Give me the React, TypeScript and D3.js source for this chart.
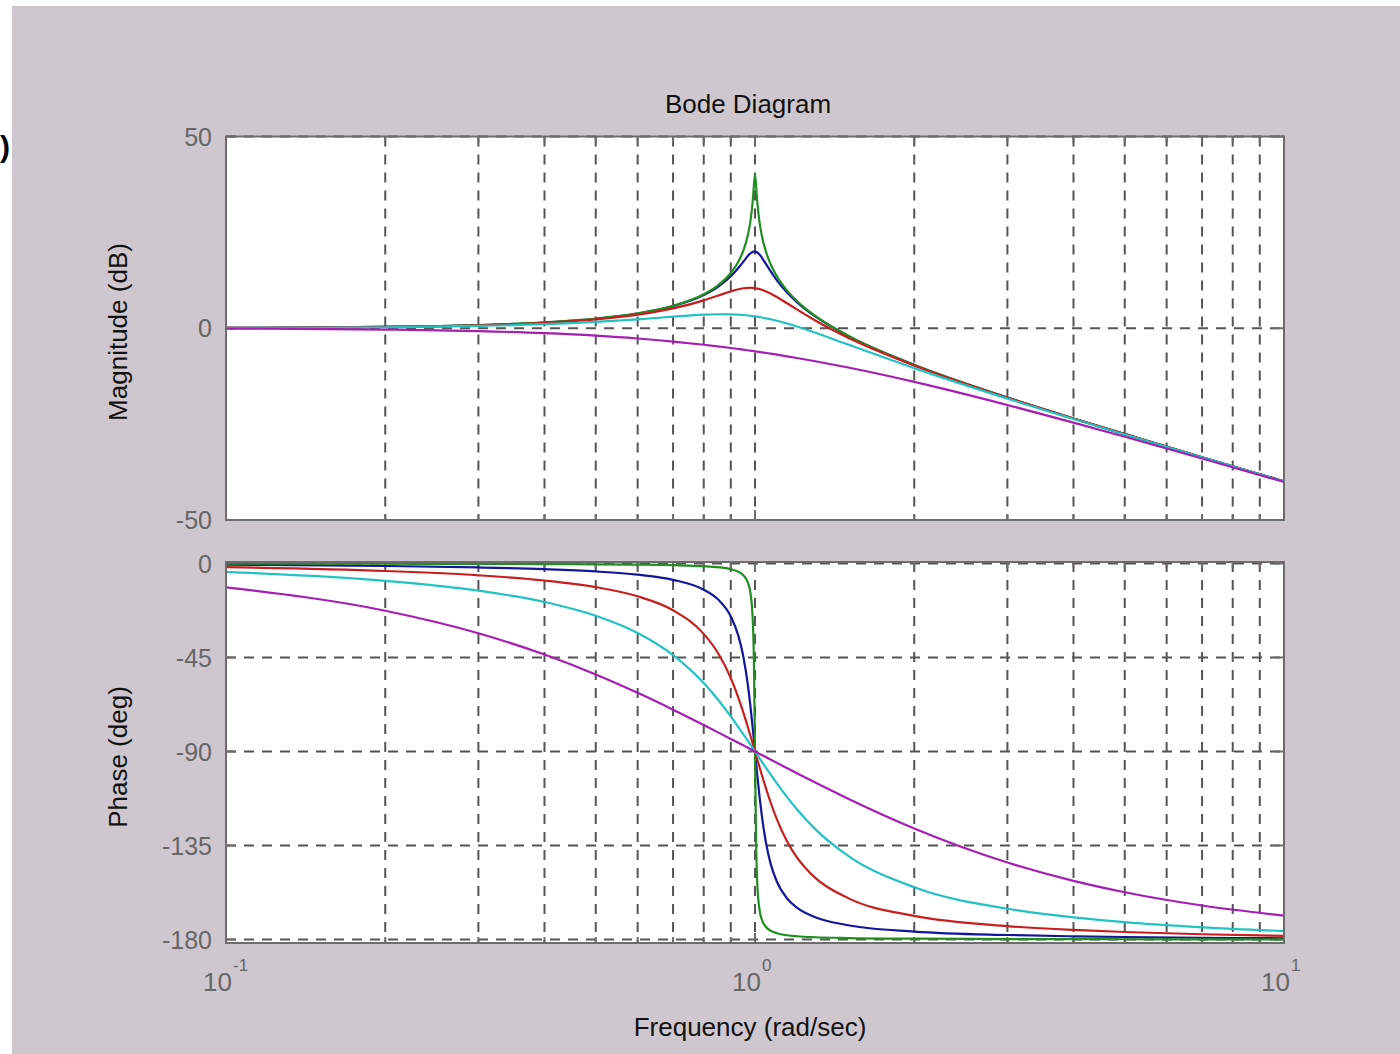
import React from "react";
import * as d3 from "d3";

const freqs = [0.1, 0.2, 0.3, 0.4, 0.5, 0.6, 0.7, 0.8, 0.85, 0.9, 0.93, 0.95, 0.97, 0.98, 0.99, 0.995, 1.0, 1.005, 1.01, 1.02, 1.03, 1.05, 1.07, 1.1, 1.15, 1.2, 1.3, 1.5, 2, 3, 4, 5, 7, 10];

// Magnitude (dB)
const magBlue = [0.087, 0.353, 0.814, 1.505, 2.48, 3.838, 5.768, 8.665, 10.745, 13.546, 15.702, 17.321, 18.894, 19.519, 19.915, 20.0, 20.0, 19.914, 19.745, 19.195, 18.441, 16.669, 14.888, 12.503, 9.31, 6.819, 3.072, -2.0, -9.562, -18.068, -23.525, -27.606, -33.626, -39.913];
const magGreen = [0.087, 0.355, 0.819, 1.515, 2.499, 3.876, 5.848, 8.872, 11.13, 14.415, 17.366, 20.179, 24.453, 27.788, 33.063, 37.022, 40.0, 36.957, 32.959, 27.604, 24.185, 19.74, 16.755, 13.544, 9.824, 7.128, 3.222, -1.939, -9.542, -18.062, -23.522, -27.604, -33.625, -39.913];
const magRed = [0.083, 0.338, 0.777, 1.427, 2.328, 3.546, 5.168, 7.277, 8.476, 9.626, 10.173, 10.422, 10.547, 10.555, 10.526, 10.497, 10.458, 10.41, 10.352, 10.211, 10.035, 9.597, 9.065, 8.153, 6.516, 4.905, 2.019, -2.467, -9.713, -18.117, -23.549, -27.621, -33.633, -39.917];
const magCyan = [0.066, 0.263, 0.594, 1.057, 1.643, 2.321, 3.008, 3.534, 3.655, 3.635, 3.545, 3.451, 3.33, 3.259, 3.182, 3.141, 3.098, 3.054, 3.008, 2.912, 2.811, 2.591, 2.351, 1.959, 1.238, 0.461, -1.153, -4.257, -10.398, -18.351, -23.671, -27.696, -33.67, -39.934];
const magMagenta = [-0.086, -0.341, -0.749, -1.289, -1.938, -2.671, -3.464, -4.297, -4.723, -5.154, -5.413, -5.587, -5.76, -5.847, -5.934, -5.978, -6.021, -6.064, -6.108, -6.195, -6.282, -6.455, -6.629, -6.888, -7.319, -7.747, -8.595, -10.238, -13.979, -20.0, -24.609, -28.299, -33.979, -40.086];

// Phase (deg)
const phBlue = [-0.58, -1.19, -1.89, -2.73, -3.81, -5.36, -7.82, -12.53, -17.03, -25.35, -34.54, -44.26, -58.64, -68.0, -78.64, -84.28, -90, -95.7, -101.26, -111.61, -120.59, -134.31, -143.56, -152.35, -160.37, -164.74, -169.33, -173.16, -176.19, -177.85, -178.47, -178.81, -179.16, -179.42];
const phGreen = [-0.06, -0.12, -0.19, -0.27, -0.38, -0.54, -0.79, -1.27, -1.75, -2.71, -3.94, -5.56, -9.32, -13.9, -26.45, -44.93, -90, -134.93, -153.32, -165.83, -170.4, -174.15, -175.78, -177.0, -177.96, -178.44, -178.92, -179.31, -179.62, -179.79, -179.85, -179.88, -179.92, -179.94];
const phRed = [-1.74, -3.58, -5.65, -8.13, -11.31, -15.71, -22.38, -33.69, -42.58, -54.86, -64.16, -71.11, -78.52, -82.33, -86.17, -88.09, -90, -91.9, -93.8, -97.52, -101.15, -108.02, -114.29, -122.47, -133.07, -140.71, -150.52, -160.2, -168.69, -173.58, -175.43, -176.42, -177.49, -178.26];
const phCyan = [-4.04, -8.3, -13.0, -18.43, -25.02, -33.27, -43.85, -57.26, -65.0, -73.22, -78.28, -81.66, -85.03, -86.7, -88.36, -89.18, -90, -90.82, -91.63, -93.24, -94.83, -97.94, -100.95, -105.26, -111.84, -117.65, -127.17, -139.97, -154.98, -165.29, -169.43, -171.7, -174.17, -175.96];
const phMagenta = [-11.42, -22.62, -33.4, -43.6, -53.13, -61.93, -69.98, -77.32, -80.72, -83.97, -85.85, -87.05, -88.25, -88.84, -89.43, -89.71, -90, -90.29, -90.57, -91.16, -91.72, -92.79, -93.87, -95.45, -97.98, -100.39, -104.86, -112.62, -126.87, -143.13, -151.93, -157.38, -163.74, -168.58];

const seriesColors = ["#14149c", "#1f8f1f", "#c81e1e", "#22c2c2", "#a61eb4"];
const magSeries = [magBlue, magGreen, magRed, magCyan, magMagenta];
const phSeries = [phBlue, phGreen, phRed, phCyan, phMagenta];

const magTicks = [50, 0, -50];
const phTicks = [0, -45, -90, -135, -180];
const decadeTicks = [{ v: 0.1, exp: "-1" }, { v: 1, exp: "0" }, { v: 10, exp: "1" }];

const title = "Bode Diagram";
const xLabel = "Frequency (rad/sec)";
const magLabel = "Magnitude (dB)";
const phLabel = "Phase (deg)";

const W = 1400;
const H = 1054;
const X0 = 226;
const X1 = 1284;
const MAG_T = 136.5;
const MAG_B = 520;
const PH_T = 562;
const PH_B = 943;
const BG = "#cec8ce";
const AX = "#6c6c6c";
const GRID = "#555555";
const FONT = "'Liberation Sans', Arial, Helvetica, sans-serif";

export default function App() {
  const x = d3.scaleLog().domain([0.1, 10]).range([X0, X1]);
  const yMag = d3.scaleLinear().domain([-50, 50]).range([MAG_B, MAG_T]);
  const yPh = d3.scaleLinear().domain([-180, 0]).range([939.5, 563.5]);
  const xt = x.ticks();

  const lineFor = (y: any) =>
    d3
      .line<[number, number]>()
      .x((d) => x(d[0]))
      .y((d) => y(d[1]))
      .curve(d3.curveMonotoneX);

  const magLine = lineFor(yMag);
  const phLine = lineFor(yPh);

  const axesGroup = (
    top: number,
    bottom: number,
    y: any,
    yt: number[],
    series: number[][],
    line: any,
    clipId: string
  ) => (
    <g>
      <rect x={X0} y={top} width={X1 - X0} height={bottom - top} fill="#ffffff" />
      <clipPath id={clipId}>
        <rect x={X0} y={top} width={X1 - X0} height={bottom - top} />
      </clipPath>
      {/* grid */}
      <g stroke={GRID} strokeWidth={2} strokeDasharray="10,8" fill="none">
        {xt
          .filter((v) => v > 0.1 && v < 10)
          .map((v, i) => (
            <line key={"gx" + i} x1={x(v)} x2={x(v)} y1={top} y2={bottom} />
          ))}
        {yt.map((v, i) => (
          <line key={"gy" + i} x1={X0} x2={X1} y1={y(v)} y2={y(v)} />
        ))}
      </g>
      {/* ticks */}
      <g stroke={AX} strokeWidth={2}>
        {xt.map((v, i) => {
          const major = Math.abs(Math.log10(v) - Math.round(Math.log10(v))) < 1e-6;
          const len = major ? 10 : 6;
          return (
            <g key={"tx" + i}>
              <line x1={x(v)} x2={x(v)} y1={bottom} y2={bottom - len} />
              <line x1={x(v)} x2={x(v)} y1={top} y2={top + len} />
            </g>
          );
        })}
        {yt.map((v, i) => (
          <g key={"ty" + i}>
            <line x1={X0} x2={X0 + 10} y1={y(v)} y2={y(v)} />
            <line x1={X1} x2={X1 - 10} y1={y(v)} y2={y(v)} />
          </g>
        ))}
      </g>
      {/* data */}
      <g clipPath={`url(#${clipId})`} fill="none" strokeWidth={2.2} strokeLinejoin="round">
        {series.map((vals, si) => (
          <path
            key={"s" + si}
            d={line(freqs.map((f, i) => [f, vals[i]] as [number, number])) || ""}
            stroke={seriesColors[si]}
          />
        ))}
      </g>
      <rect
        x={X0}
        y={top}
        width={X1 - X0}
        height={bottom - top}
        fill="none"
        stroke={AX}
        strokeWidth={2}
      />
      {/* y tick labels */}
      <g fill="#666666" fontSize={25} fontFamily={FONT} textAnchor="end">
        {yt.map((v, i) => (
          <text key={"yl" + i} x={212} y={y(v)} dy="0.36em">
            {v}
          </text>
        ))}
      </g>
    </g>
  );

  return (
    <svg
      width={W}
      height={H}
      style={{ position: "absolute", left: 0, top: 0, display: "block" }}
    >
      <rect x={0} y={0} width={W} height={H} fill="#ffffff" />
      <rect x={12} y={6} width={W - 12} height={H - 6} fill={BG} />
      <text x={0} y={157} fontSize={30} fontWeight="bold" fontFamily={FONT} fill="#000">
        )
      </text>
      <text x={748} y={113} textAnchor="middle" fontSize={26} fontFamily={FONT} fill="#111">
        {title}
      </text>
      {axesGroup(MAG_T, MAG_B, yMag, magTicks, magSeries, magLine, "clipMag")}
      {axesGroup(PH_T, PH_B, yPh, phTicks, phSeries, phLine, "clipPh")}
      {/* x tick labels */}
      <g fill="#666666" fontFamily={FONT}>
        {decadeTicks.map((t, i) => (
          <g key={"xl" + i}>
            <text x={x(t.v) + 6} y={991} fontSize={26} textAnchor="end">
              10
            </text>
            <text x={x(t.v) + 7} y={971} fontSize={17}>
              {t.exp}
            </text>
          </g>
        ))}
      </g>
      <text x={750} y={1036} textAnchor="middle" fontSize={26} fontFamily={FONT} fill="#111">
        {xLabel}
      </text>
      <text
        transform="translate(127,332) rotate(-90)"
        textAnchor="middle"
        fontSize={26}
        fontFamily={FONT}
        fill="#111"
      >
        {magLabel}
      </text>
      <text
        transform="translate(127,757) rotate(-90)"
        textAnchor="middle"
        fontSize={26}
        fontFamily={FONT}
        fill="#111"
      >
        {phLabel}
      </text>
    </svg>
  );
}
